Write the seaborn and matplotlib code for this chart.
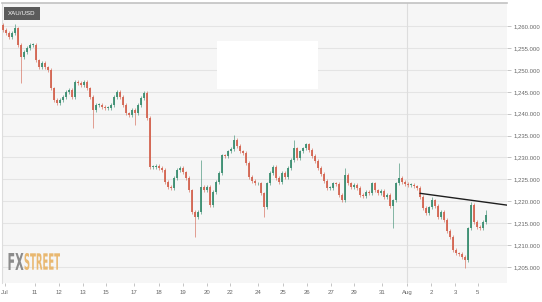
import matplotlib
matplotlib.use("Agg")
import numpy as np
import pandas as pd
import seaborn as sns
import matplotlib.pyplot as plt
from matplotlib.patches import Rectangle, PathPatch
from matplotlib.textpath import TextPath
from matplotlib.font_manager import FontProperties
from matplotlib.transforms import Affine2D

# ---------------- data (XAU/USD, 4h-style candles) ----------------
first_open = 1260.3
closes = [
    1259.1, 1258.4, 1257.5, 1258.4, 1259.5, 1255.7, 1252.9, 1254.1, 1255.0, 1255.7,
    1255.7, 1252.2, 1250.6, 1251.6, 1250.6, 1250.0, 1245.8, 1243.1, 1242.4, 1243.1,
    1243.8, 1244.9, 1245.4, 1243.8, 1247.2, 1247.0, 1246.5, 1247.2, 1245.8, 1243.8,
    1240.8, 1242.0, 1242.0, 1241.5, 1241.3, 1241.3, 1242.0, 1243.8, 1244.9, 1243.8,
    1242.0, 1240.1, 1239.7, 1240.8, 1240.1, 1242.0, 1243.6, 1244.7, 1239.0, 1227.8,
    1227.8, 1228.0, 1227.6, 1227.1, 1224.4, 1223.2, 1223.0, 1225.3, 1227.1, 1227.6,
    1226.6, 1225.3, 1222.5, 1217.5, 1216.4, 1217.5, 1223.2, 1222.5, 1223.2, 1219.1,
    1222.1, 1224.4, 1226.4, 1230.5, 1230.3, 1231.4, 1231.9, 1234.0, 1232.6, 1231.4,
    1231.0, 1228.7, 1225.5, 1224.6, 1224.1, 1224.1, 1221.8, 1218.6, 1224.1, 1226.4,
    1227.8, 1225.3, 1224.4, 1226.4, 1225.5, 1227.6, 1229.4, 1232.1, 1229.8, 1231.4,
    1232.1, 1233.0, 1231.7, 1230.3, 1229.2, 1227.6, 1226.2, 1224.6, 1223.0, 1223.0,
    1224.1, 1223.9, 1221.4, 1220.2, 1226.0, 1224.1, 1223.2, 1223.7, 1223.0, 1221.4,
    1221.2, 1222.1, 1221.8, 1224.1, 1222.5, 1221.8, 1222.3, 1220.9, 1221.4, 1218.9,
    1220.2, 1224.1, 1225.3, 1224.4, 1223.9, 1223.7, 1223.7, 1223.4, 1223.0, 1220.9,
    1218.4, 1217.3, 1218.6, 1220.2, 1218.9, 1216.4, 1217.5, 1215.7, 1213.2, 1211.8,
    1208.8, 1208.1, 1207.9, 1207.2, 1206.5, 1213.8, 1219.1, 1215.2, 1214.1, 1213.8,
    1215.2, 1216.8,
]
# extremes read from the long wicks (candle index -> price)
low_marks = {6: 1247.0, 30: 1236.7, 44: 1237.4, 64: 1211.8, 87: 1216.5,
             130: 1213.8, 154: 1204.7}
high_marks = {4: 1260.5, 47: 1245.3, 66: 1229.4, 77: 1235.1, 97: 1234.0,
              114: 1227.6, 132: 1228.7, 143: 1221.0, 156: 1219.8, 161: 1218.0}
WICK = 0.4

day_labels = ["Jul", "11", "12", "13", "15", "17", "18", "19", "20", "22", "24",
              "25", "26", "27", "29", "31", "Aug", "2", "3", "5"]
day_pos = [0.7, 10.7, 18.7, 26.7, 34.3, 43.7, 52.0, 60.0, 68.0, 75.7, 85.0,
           93.3, 101.3, 109.3, 117.0, 126.3, 134.7, 142.7, 150.7, 158.3]
y_ticks = [1205, 1210, 1215, 1220, 1225, 1230, 1235, 1240, 1245, 1250, 1255, 1260]

trend_idx = [139, 168]
trend_price = [1221.8, 1219.1]

# ---------------- build table ----------------
opens = [first_open] + closes[:-1]
df = pd.DataFrame({"idx": np.arange(len(closes)), "open": opens, "close": closes})
df["top"] = df[["open", "close"]].max(axis=1)
df["bot"] = df[["open", "close"]].min(axis=1)
df["high"] = [high_marks.get(i, t + WICK) for i, t in zip(df["idx"], df["top"])]
df["low"] = [low_marks.get(i, b - WICK) for i, b in zip(df["idx"], df["bot"])]
df["up"] = df["close"] >= df["open"]

UP, DOWN = "#3a8d70", "#d36450"
colors = [UP if u else DOWN for u in df["up"]]

# ---------------- style ----------------
sns.set_theme(style="white")
plt.rcParams["font.family"] = ["Liberation Sans", "DejaVu Sans"]

W, H = 542, 302
fig = plt.figure(figsize=(W / 100, H / 100), dpi=100)
fig.patch.set_facecolor("white")
ax = fig.add_axes([2 / W, (H - 283) / H, 505 / W, 280 / H])
ax.set_facecolor("#f6f6f6")

# candles
ax.vlines(df["idx"], df["low"], df["high"], colors=colors, lw=0.5, alpha=0.85,
          zorder=3)
heights = np.maximum(df["top"] - df["bot"], 0.15)
ax.bar(df["idx"], heights, bottom=df["bot"], width=0.6, color=colors,
       linewidth=0, alpha=0.9, zorder=4)

# trend line
sns.lineplot(x=trend_idx, y=trend_price, ax=ax, color="#1e1e1e", lw=1.0, zorder=6)

# axes
ax.set_xlim(-0.33, 168)
ax.set_ylim(1201.3, 1265.3)
ax.yaxis.tick_right()
ax.set_yticks(y_ticks)
ax.set_yticklabels([f"{v:,.3f}" for v in y_ticks])
ax.set_xticks(day_pos)
ax.set_xticklabels(day_labels)
ax.tick_params(axis="y", length=3, width=0.6, color="#bbbbbb", labelsize=4.3,
               labelcolor="#666666", pad=1.5, right=True)
ax.tick_params(axis="x", length=2, width=0.6, color="#bbbbbb", labelsize=4.3,
               labelcolor="#666666", pad=3, bottom=True)
ax.grid(axis="y", color="#e4e4e4", lw=0.8, zorder=0)
ax.grid(axis="x", visible=False)
ax.set_axisbelow(True)
ax.axvline(day_pos[day_labels.index("Aug")], color="#dddddd", lw=0.8, zorder=1)
for s in ["right", "bottom"]:
    ax.spines[s].set_visible(False)
ax.spines["top"].set_color("#c2c2c2")
ax.spines["top"].set_linewidth(1.2)
ax.spines["left"].set_color("#dddddd")
ax.spines["left"].set_linewidth(0.8)
ax.set_xlabel("")
ax.set_ylabel("")

# overlays (figure pixel coordinates)
def fbox(x0, y0, x1, y1, **kw):
    fig.add_artist(Rectangle((x0 / W, (H - y1) / H), (x1 - x0) / W, (y1 - y0) / H,
                             transform=fig.transFigure, **kw))

fbox(217, 41, 318, 89, facecolor="white", edgecolor="none", zorder=7)
fbox(4, 7, 40, 20, facecolor="#5b5b5b", edgecolor="none", zorder=7)
fig.text(22 / W, (H - 13.5) / H, "XAU/USD", color="white", fontsize=4.4,
         ha="center", va="center", zorder=8)

fp = FontProperties(family="DejaVu Sans", weight="bold")
def logo(text, x0, x1, ytop, ybot, color):
    tp = TextPath((0, 0), text, size=100, prop=fp)
    bb = tp.get_extents()
    tr = (Affine2D().translate(-bb.x0, -bb.y0)
          .scale((x1 - x0) / bb.width, (ybot - ytop) / bb.height)
          .translate(x0, H - ybot))
    fig.add_artist(PathPatch(tp, transform=tr, facecolor=color, edgecolor="none",
                             zorder=8))

logo("FX", 8.5, 23.5, 253, 270, "#8c8c8c")
logo("STREET", 24.5, 60, 253, 270, "#e9b870")

fig.savefig("out.png", dpi=100, facecolor="white")
